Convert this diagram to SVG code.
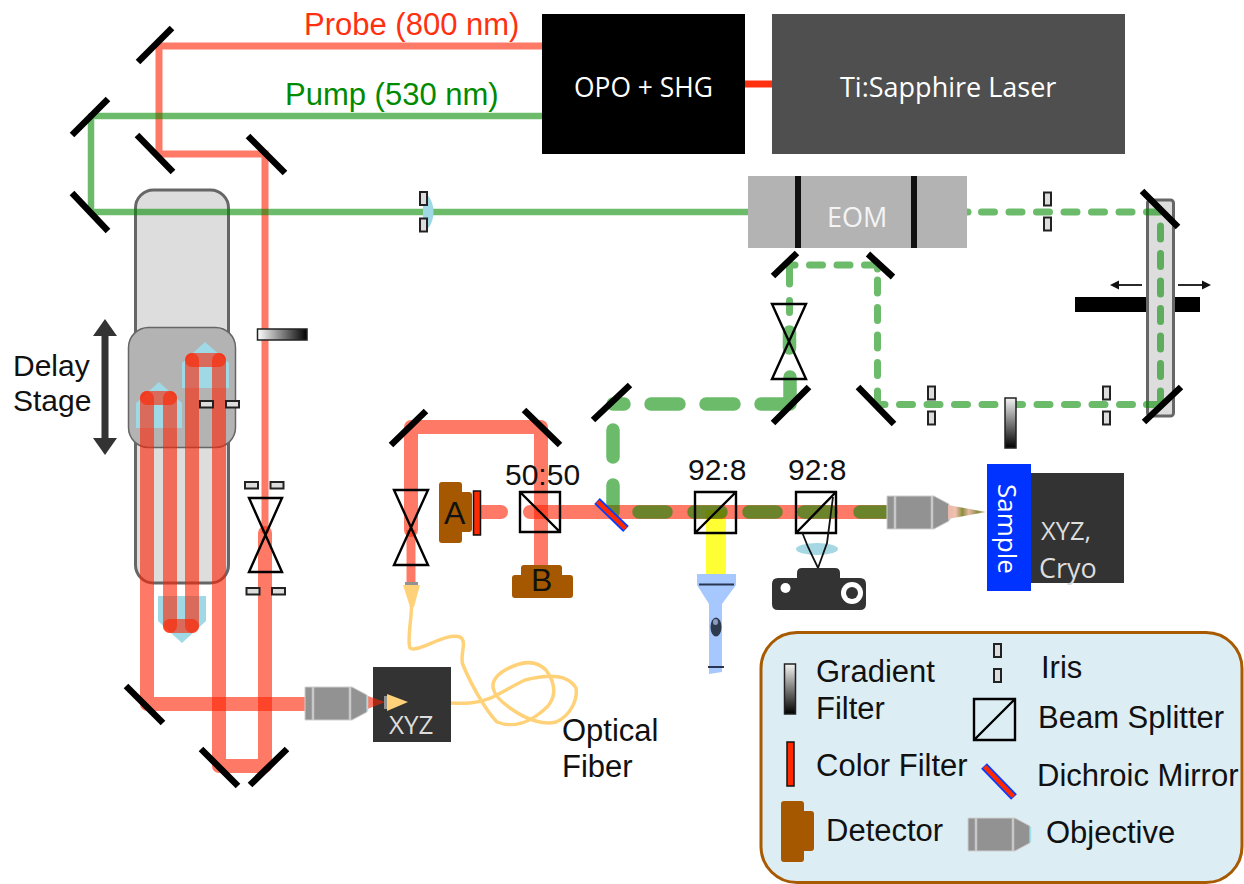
<svg xmlns="http://www.w3.org/2000/svg" xmlns:xlink="http://www.w3.org/1999/xlink" width="1244" height="884" viewBox="0 0 1244 884">
<style>
text{font-family:"Liberation Sans",Arial,sans-serif;font-size:31px;fill:#111}
.os{font-family:"Open Sans",sans-serif}
.r{fill:none;stroke:#ff2100;stroke-opacity:.6}
.g{fill:none;stroke:#008a00;stroke-opacity:.58;stroke-linecap:round;stroke-linejoin:round}
.w{stroke-width:14;stroke-linecap:round;stroke-linejoin:round}
.m{stroke:#000;stroke-width:6.500;fill:none}
.iris{fill:#ddd;stroke:#222;stroke-width:2}
.ln{fill:none;stroke:#000;stroke-width:2.400;stroke-linejoin:miter}
.bs{fill:none;stroke:#000;stroke-width:2.400}
.det{fill:#a65800}
.retro{fill:#9fd9e6}
.dk{fill:#333}
</style>
<defs>
<filter id="soft" x="-10%" y="-10%" width="120%" height="120%"><feGaussianBlur stdDeviation=".7"/></filter>
<linearGradient id="gh"><stop offset="0" stop-color="#fff"/><stop offset="1" stop-color="#000"/></linearGradient>
<linearGradient id="gv" x2="0" y2="1"><stop offset="0" stop-color="#f4f4f4"/><stop offset="1" stop-color="#000"/></linearGradient>
<linearGradient id="foc"><stop offset="0" stop-color="#e8b8a8"/><stop offset=".2" stop-color="#f0c0b0"/><stop offset=".38" stop-color="#8a8f3c"/><stop offset=".55" stop-color="#e8b8a8"/><stop offset=".78" stop-color="#8a8f3c"/><stop offset="1" stop-color="#e8b8a8"/></linearGradient>
<g id="obj"><path d="M0 0H47L62 8V25L47 33H0Z" fill="#929292" stroke="#cfcfcf" stroke-width="1"/><path d="M8 0V33M45 0V33" stroke="#c8c8c8" stroke-width="2.500"/><path d="M62.500 9V24" stroke="#9fe0ee" stroke-width="1.500"/></g>
<path id="i" d="M0 0h7v13h-7z" class="iris"/>
<path id="ih" d="M0 0h13v6.500h-13z" class="iris"/>
<path id="dt" d="M3 0H20Q23 0 23 3V10H30Q33 10 33 13V47Q33 50 30 50H23V58Q23 61 20 61H3Q0 61 0 58V3Q0 0 3 0Z" class="det"/>
</defs>
<rect width="1244" height="884" fill="#fff"/>

<g id="delay-stage">
<rect x="135.500" y="190" width="93" height="393" rx="18" fill="#ddd" stroke="#666" stroke-width="3"/>
<rect x="128.500" y="327.500" width="107" height="120" rx="20" fill="#b3b3b3" stroke="#666" stroke-width="1.500"/>
<path class="retro" d="M136 428V403L159 382L182 403V428Z"/>
<path class="retro" d="M182 388V363L205 342L229 363V388Z"/>
<path class="retro" d="M158 596H206V621L182 643L158 621Z"/>
</g>

<g id="stage-arrow"><path class="dk" d="M105 319L117 336H108.500V438H117L105 455L93 438H101.500V336H93Z"/></g>

<g id="connectors">
<path d="M706 510H726V574H706Z" fill="#ffff33"/>
<path class="r" stroke-width="7" d="M542 46H159V154H265V533"/>
<path class="r w" d="M147 398V704H305"/>
<path class="r w" d="M265 533V766H219V360"/>
<path class="r w" d="M219 360H192"/>
<path class="r w" d="M192 360V626"/>
<path class="r w" d="M192 626H170"/>
<path class="r w" d="M170 626V398"/>
<path class="r w" d="M170 398H147"/>
<path class="r w" d="M411 530V427H541V565"/>
<path class="r" stroke-width="9" d="M411 530V582"/>
<path class="r w" d="M480 512H501"/>
<path class="r w" d="M530 512H890"/>
<path d="M745 84H772" stroke="#ff3010" stroke-width="7"/>
<path class="g" stroke-width="6.500" stroke-linecap="butt" d="M542 116H91V212H748"/>
<path class="g" stroke-width="7" d="M967 212H968M981.500 212H994.500M1009 212H1022M1036.500 212H1049.500M1064 212H1077M1091.500 212H1104.500M1119 212H1132M1132.500 404.500H1119.500M1105 404.500H1092M1077.500 404.500H1064.500M1050 404.500H1037M1022.500 404.500H1009.500M995 404.500H982M967.500 404.500H954.500M940 404.500H927M912.500 404.500H899.500M885 404.500H877.500V391M877.500 375.500V362.500M877.500 348V335M877.500 320.500V307.500M877.500 293V280M877.500 269V265H864.500M850 265H837M822.500 265H809.500M795 265H789.500V284M789.500 300.500V312.500"/>
<path class="g" stroke-width="13.500" d="M789.500 332V348M790 377V404H761M734 404H706M679 404H651M624 404H613M613 430V457M613 485V512M639 512H666M694 512H721M749 512H776M804 512H831M860 512H887"/>
<path id="fiber" fill="none" stroke="#ffd27a" stroke-width="3.500" stroke-linecap="round" d="M411.500 606C411 625 407 640 410 648C417 654 445 632 460 637C468 642 459 655 463 665C470 682 485 710 497 722C512 728 530 724 548 706C556 696 556 684 546 670C534 658 518 662 502 672C488 682 490 694 510 708C528 721 545 725 556 722C570 716 578 700 576 688C568 674 548 674 525 680C500 692 490 702 470 703C450 704 425 702 408 702"/>
</g>

<g id="mirrors">
<path class="m" d="M138 62L172 28M72 135L108 99M72 193L108 231M137 135L173 172M248 136L285 173M126 686L163 723M201 749L238 786M250 785L287 749M391 445L426 411M524 410L560 445M593 420L630 385M773 276L797 253M868 254L893 277M858 387L894 424M773 423L809 387"/>
</g>

<g id="opo"><rect x="542" y="14" width="203" height="140" fill="#000"/><text class="os" x="574" y="97" style="fill:#fff;font-size:26.400px">OPO + SHG</text></g>
<g id="laser"><rect x="772" y="14" width="353" height="140" fill="#4f4f4f"/><text class="os" x="840" y="97" style="fill:#fff;font-size:27px">Ti:Sapphire Laser</text></g>
<text x="304" y="35" style="fill:#ff3010">Probe (800 nm)</text>
<text x="285" y="105" style="fill:#008a00">Pump (530 nm)</text>
<text x="13" y="376" style="font-size:30px">Delay</text>
<text x="13" y="411" style="font-size:30px">Stage</text>

<g id="eom"><rect x="748" y="176" width="219" height="72" fill="#b3b3b3"/><path d="M798 176V248M914 176V248" stroke="#111" stroke-width="6"/><text class="os" x="827" y="227" style="fill:#f4f4f4;font-size:27px">EOM</text></g>

<g id="lens1"><path d="M423 192C437 198 437 226 423 232Z" fill="#9fd9e6"/><use xlink:href="#i" x="420" y="192"/><use xlink:href="#i" x="420" y="218.500"/></g>
<g id="irises">
<use xlink:href="#i" x="1044" y="192.500"/><use xlink:href="#i" x="1044" y="217.500"/>
<use xlink:href="#i" x="928" y="386.500"/><use xlink:href="#i" x="928" y="411.500"/>
<use xlink:href="#i" x="1103" y="386.500"/><use xlink:href="#i" x="1103" y="411.500"/>
<use xlink:href="#ih" x="200" y="401"/><use xlink:href="#ih" x="226" y="401"/>
<use xlink:href="#ih" x="245" y="482"/><use xlink:href="#ih" x="270.500" y="482"/>
<use xlink:href="#ih" x="246.500" y="588"/><use xlink:href="#ih" x="272" y="588"/>
</g>
<g id="gradient1"><rect x="257.500" y="329" width="49.500" height="11" fill="url(#gh)" stroke="#222" stroke-width="1.500"/></g>
<g id="gradient2"><rect x="1005" y="398" width="11" height="50" fill="url(#gv)" stroke="#222" stroke-width="1.500"/></g>

<g id="lenses">
<path class="ln" d="M249 498H282L249 572H282Z"/>
<path class="ln" d="M772 304H806L772 379H806Z"/>
<path class="ln" d="M394 490H428L394 565H428Z"/>
</g>

<g id="translation">
<path d="M1075 297H1200V312H1075Z" fill="#000"/>
<rect x="1147.500" y="200" width="26" height="216" rx="3" fill="#ddd" stroke="#666" stroke-width="3"/>
<path d="M1142 285H1118" stroke="#111" stroke-width="1.800"/><path d="M1110 285L1119 280.500V289.500Z" fill="#111"/>
<path d="M1178 285H1203" stroke="#111" stroke-width="1.800"/><path d="M1211 285L1202 280.500V289.500Z" fill="#111"/>
</g>
<path class="g" stroke-width="7" d="M1146.500 212H1160M1160.500 226V239M1160.500 253.500V266.500M1160.500 281V294M1160.500 308.500V321.500M1160.500 336V349M1160.500 363.500V376.500M1160.500 391V404.500H1146.500"/>
<path class="m" d="M1142 191L1178 227M1144 422L1181 387"/>

<g id="detector-a"><use xlink:href="#dt" x="439" y="482"/><rect x="473.500" y="491" width="7" height="44" fill="#ff2a00" stroke="#111" stroke-width="1.500"/><text x="444" y="524" style="font-size:32px">A</text></g>
<g id="detector-b"><path class="det" d="M524 565H559Q562 565 562 568V575H570Q573 575 573 578V595Q573 598 570 598H515Q512 598 512 595V578Q512 575 515 575H521V568Q521 565 524 565Z"/><text x="531" y="591" style="font-size:32px">B</text></g>

<g id="splitters">
<path class="bs" d="M520 492H560V532H520ZM520 492L560 532"/>
<path class="bs" d="M695 492H736V533H695ZM695 533L736 492"/>
<path class="bs" d="M796 492H836V533H796ZM796 533L836 492"/>
<text x="505" y="485" style="font-size:30px">50:50</text>
<text x="688" y="480" style="font-size:30px">92:8</text>
<text x="788" y="480" style="font-size:30px">92:8</text>
</g>
<g id="dichroic"><path d="M597 501L626 529" stroke="#0a3cff" stroke-width="8"/><path d="M597.500 501.500L625.500 528.500" stroke="#ff2a00" stroke-width="4.500"/></g>

<g id="camera"><ellipse cx="817" cy="549" rx="21" ry="6" fill="#a5d8e3"/><path d="M802 532L808 547L818 568L827 543L833 497" fill="none" stroke="#111" stroke-width="1.800"/><path class="dk" d="M802 568H835Q840 568 840 573V578H860Q866 578 866 584V604Q866 610 860 610H778Q772 610 772 604V584Q772 578 778 578H797V573Q797 568 802 568Z"/><circle cx="785.500" cy="588" r="5" fill="#fff"/><circle cx="852" cy="593" r="11" fill="#fff"/><circle cx="852" cy="593" r="6" fill="#333"/></g>

<g id="flashlight" filter="url(#soft)"><path d="M697 574H736V585L722 604V672L709 674V604L697 585Z" fill="#a6c8ff"/><path d="M699 584.500H734M708 667H724" stroke="#2a3550" stroke-width="2.200"/><ellipse cx="716" cy="627" rx="5.500" ry="9.500" fill="#2f3a50"/><ellipse cx="715.500" cy="622" rx="2.500" ry="3" fill="#8a9cc0"/></g>

<g id="xyz1"><rect x="373" y="667" width="78" height="75" fill="#333"/><path d="M365 695L385 702L365 710Z" fill="#ff2100" fill-opacity=".6"/><rect x="384" y="696" width="4" height="13" fill="#929292"/><path d="M387 694L408 702L387 711Z" fill="#ffd27a"/><text class="os" x="389" y="734" style="fill:#ddd;font-size:26px">XYZ</text></g>
<use id="objective-a" xlink:href="#obj" x="305" y="687"/>
<use id="objective-b" xlink:href="#obj" x="887" y="496"/>
<path d="M948 505L986 512L948 519Z" fill="url(#foc)"/>
<g id="collimator"><rect x="405" y="582" width="13" height="3" fill="#929292"/><path d="M403 585H420L414 607H410Z" fill="#ffd27a"/></g>

<g id="stage-xyz"><rect x="1031" y="473" width="93" height="110" fill="#333"/><text class="os" x="1041" y="540" style="fill:#ddd;font-size:25.500px">XYZ,</text><text class="os" x="1039" y="578" style="fill:#ddd;font-size:27px">Cryo</text></g>
<g id="sample"><rect x="987" y="464" width="44" height="127" fill="#0033ff"/><text class="os" transform="translate(998,484) rotate(90)" style="fill:#fff;font-size:26px">Sample</text></g>

<text x="562" y="741">Optical</text>
<text x="562" y="777">Fiber</text>

<g id="legend">
<rect x="761" y="632.500" width="481" height="250" rx="36" fill="#dceef4" stroke="#a85a00" stroke-width="3"/>
<rect x="784.500" y="664" width="11" height="50" fill="url(#gv)" stroke="#222" stroke-width="1.500"/>
<text x="816" y="681.500">Gradient</text><text x="816" y="718.500">Filter</text>
<use xlink:href="#i" x="994" y="644"/><use xlink:href="#i" x="994" y="669"/>
<text x="1041" y="678">Iris</text>
<path class="bs" d="M974 699H1015V740H974ZM974 740L1015 699"/>
<text x="1038" y="727.500">Beam Splitter</text>
<rect x="787" y="742" width="7" height="44" fill="#ff2a00" stroke="#111" stroke-width="1.500"/>
<text x="816" y="776">Color Filter</text>
<path d="M984 766L1014 797" stroke="#0a3cff" stroke-width="8"/><path d="M984.500 766.500L1013.500 796.500" stroke="#ff2a00" stroke-width="4.500"/>
<text x="1037" y="786">Dichroic Mirror</text>
<use xlink:href="#dt" x="781" y="801"/>
<text x="826" y="840.500">Detector</text>
<use xlink:href="#obj" x="968" y="818"/>
<text x="1046" y="843">Objective</text>
</g>
</svg>
